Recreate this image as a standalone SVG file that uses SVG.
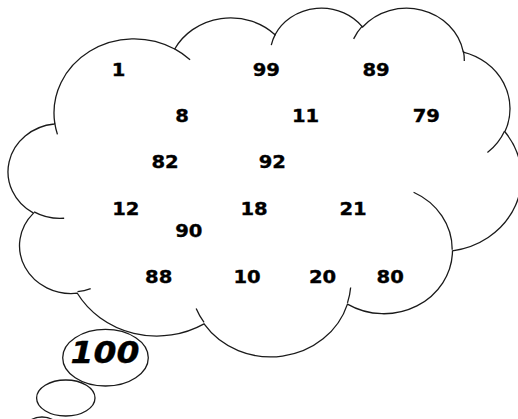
<svg xmlns="http://www.w3.org/2000/svg" width="518" height="419" viewBox="0 0 518 419">
<style>
.ln{fill:none;stroke:#1a1a1a;stroke-width:1.3;vector-effect:non-scaling-stroke}
.cl{fill:#fff;stroke:#1a1a1a;stroke-width:1.3;vector-effect:non-scaling-stroke}
.n{font-family:"DejaVu Sans",Verdana,sans-serif;font-weight:bold;font-size:17.8px;text-anchor:middle;fill:#000;stroke:#000;stroke-width:0.35}
.big{font-size:29.5px;font-style:italic}
</style>
<rect width="518" height="419" fill="#fff"/>
<g id="cloud" transform="matrix(0.011871 0 0 0.00807 8.44 7)">
<path class="cl" d="M3900 14370 A6753 9190 0 0 1 14005.3 5202.3 A5333 7267 0 0 1 22457.9 3435 A4365 5945 0 0 1 29834.7 2483.2 A4857 6595 0 0 1 38319.2 5579.6 A5333 7273 0 0 1 41819.6 15463.3 A6775 9220 0 0 1 37405.9 30206.9 A5785 7867 0 0 1 28557.2 36816.9 A6752 9215 0 0 1 16479.3 39263.8 A7720 10543 0 0 1 5801.6 35468.2 A4360 5918 0 0 1 2112.8 25542.9 A4345 5945 0 0 1 3862.5 14499.2 Z"/>
<path class="ln" d="M4693 26177 A4345 5945 0 0 1 2160.2 25380.1 M6928 34899 A4360 5918 0 0 1 5819.6 35280.4 M16478 39090 A6752 9215 0 0 1 15812.5 37354.8 M28827 34751 A6752 9215 0 0 1 28560.5 36659.5 M34129 22954 A5785 7867 0 0 1 37380.4 30089.5 M41798 15354 A5333 7273 0 0 1 40349.9 18030.1 M38324 5426 A4857 6595 0 0 1 38400.4 6690 M29078 3952 A4857 6595 0 0 1 29820.3 2339.6 M22141 4720 A4365 5945 0 0 1 22500.2 3330 M14000 5192 A6753 9190 0 0 1 15301.7 6542.8 M4127 15789 A6753 9190 0 0 1 3900.2 14370"/>
</g>
<g id="bubbles">
<ellipse class="cl" cx="105.5" cy="357.7" rx="42.8" ry="28.3"/>
<ellipse class="cl" cx="65.8" cy="398" rx="29.2" ry="18"/>
<ellipse class="cl" cx="42" cy="429" rx="17" ry="12"/>
</g>
<g id="numbers">
<g id="n1"><text class="n" transform="translate(118.5 76.3) scale(1.1 1)">1</text></g>
<g id="n99"><text class="n" transform="translate(266.3 76.3) scale(1.1 1)">99</text></g>
<g id="n89"><text class="n" transform="translate(376 76.3) scale(1.1 1)">89</text></g>
<g id="n8"><text class="n" transform="translate(182 121.5) scale(1.1 1)">8</text></g>
<g id="n11"><text class="n" transform="translate(305.5 121.5) scale(1.1 1)">11</text></g>
<g id="n79"><text class="n" transform="translate(426.3 121.5) scale(1.1 1)">79</text></g>
<g id="n82"><text class="n" transform="translate(165 168) scale(1.1 1)">82</text></g>
<g id="n92"><text class="n" transform="translate(272.3 168) scale(1.1 1)">92</text></g>
<g id="n12"><text class="n" transform="translate(125.8 214.5) scale(1.1 1)">12</text></g>
<g id="n18"><text class="n" transform="translate(254 214.5) scale(1.1 1)">18</text></g>
<g id="n21"><text class="n" transform="translate(353 214.5) scale(1.1 1)">21</text></g>
<g id="n90"><text class="n" transform="translate(188.8 237) scale(1.1 1)">90</text></g>
<g id="n88"><text class="n" transform="translate(158.7 283) scale(1.1 1)">88</text></g>
<g id="n10"><text class="n" transform="translate(247 283) scale(1.1 1)">10</text></g>
<g id="n20"><text class="n" transform="translate(322.5 283) scale(1.1 1)">20</text></g>
<g id="n80"><text class="n" transform="translate(390.2 283) scale(1.1 1)">80</text></g>
<g id="n100"><text class="n big" transform="translate(105 363.3) scale(1.12 1)">100</text></g>
</g>
</svg>
